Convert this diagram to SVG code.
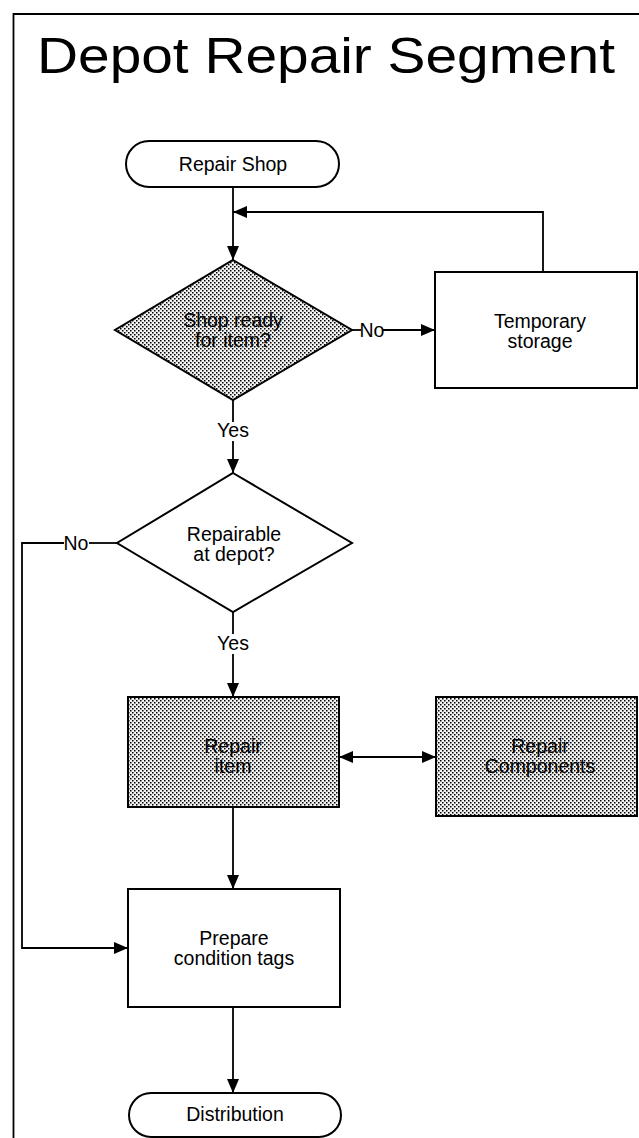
<svg xmlns="http://www.w3.org/2000/svg" width="639" height="1138" viewBox="0 0 639 1138">
  <style>
    .shape { stroke: #000; stroke-width: 2; fill: #fff; }
    .shaded { stroke: #000; stroke-width: 2; fill: url(#halftone); }
    .wire { stroke: #000; stroke-width: 1.8; fill: none; }
    .lbl { font-family: "Liberation Sans", Arial, sans-serif; font-size: 19.5px; fill: #000; text-anchor: middle; }
    .title { font-family: "Liberation Sans", Arial, sans-serif; font-size: 50px; fill: #000; }
  </style>
  <defs>
    <!-- dotted halftone used for shaded steps -->
    <pattern id="halftone" width="4" height="4" patternUnits="userSpaceOnUse">
      <rect width="4" height="4" fill="#f2f2f2"/>
      <rect x="0" y="0" width="1.5" height="1.5" fill="#000"/>
      <rect x="2" y="2" width="1.5" height="1.5" fill="#000"/>
    </pattern>
    <marker id="arrow" viewBox="0 0 14 12" refX="14" refY="6" markerWidth="14" markerHeight="12" markerUnits="userSpaceOnUse" orient="auto-start-reverse">
      <path d="M0,0 L14,6 L0,12 Z" fill="#000"/>
    </marker>
  </defs>

  <rect width="639" height="1138" fill="#fff"/>

  <!-- page frame -->
  <g id="frame">
    <path d="M13.5,1138 V14 H639" class="wire" stroke-width="2"/>
  </g>

  <text id="title" class="title" x="37" y="73" textLength="578" lengthAdjust="spacingAndGlyphs">Depot Repair Segment</text>

  <!-- connectors -->
  <g id="connectors">
    <!-- Repair Shop to first decision -->
    <path d="M233,187 V260" class="wire" marker-end="url(#arrow)"/>
    <!-- storage loop back -->
    <path d="M543,272 V212 H233" class="wire" marker-end="url(#arrow)"/>
    <!-- No: to temporary storage -->
    <path d="M352,330 H361" class="wire"/>
    <path d="M383,330 H435" class="wire" marker-end="url(#arrow)"/>
    <text class="lbl" x="372" y="337">No</text>
    <!-- Yes: to second decision -->
    <path d="M233,400 V422" class="wire"/>
    <path d="M233,441 V473" class="wire" marker-end="url(#arrow)"/>
    <text class="lbl" x="233" y="437">Yes</text>
    <!-- No: bypass to condition tags -->
    <path d="M117,543 H89" class="wire"/>
    <path d="M64,543 H22 V948 H128" class="wire" marker-end="url(#arrow)"/>
    <text class="lbl" x="76" y="550">No</text>
    <!-- Yes: to repair item -->
    <path d="M233,612 V634" class="wire"/>
    <path d="M233,654 V697" class="wire" marker-end="url(#arrow)"/>
    <text class="lbl" x="233" y="650">Yes</text>
    <!-- repair item <-> components -->
    <path d="M339,757 H436" class="wire" marker-start="url(#arrow)" marker-end="url(#arrow)"/>
    <!-- repair item to condition tags -->
    <path d="M233,807 V889" class="wire" marker-end="url(#arrow)"/>
    <!-- condition tags to distribution -->
    <path d="M233,1007 V1093" class="wire" marker-end="url(#arrow)"/>
  </g>

  <g id="repair-shop">
    <rect class="shape" x="126" y="141" width="213" height="46" rx="23" ry="23"/>
    <text class="lbl" x="233" y="171">Repair Shop</text>
  </g>

  <g id="shop-ready">
    <path class="shaded" d="M233,260 L352,330 L233,400 L115,330 Z"/>
    <text class="lbl" x="233" y="327">Shop ready</text>
    <text class="lbl" x="233" y="347">for item?</text>
  </g>

  <g id="temporary-storage">
    <rect class="shape" x="435" y="272" width="202" height="116"/>
    <text class="lbl" x="540" y="328">Temporary</text>
    <text class="lbl" x="540" y="348">storage</text>
  </g>

  <g id="repairable">
    <path class="shape" d="M233,473 L352,543 L233,612 L117,543 Z"/>
    <text class="lbl" x="234" y="541">Repairable</text>
    <text class="lbl" x="234" y="561">at depot?</text>
  </g>

  <g id="repair-item">
    <rect class="shaded" x="128" y="697" width="211" height="110"/>
    <text class="lbl" x="233" y="753">Repair</text>
    <text class="lbl" x="233" y="773">item</text>
  </g>

  <g id="repair-components">
    <rect class="shaded" x="436" y="697" width="201" height="119"/>
    <text class="lbl" x="540" y="753">Repair</text>
    <text class="lbl" x="540" y="773">Components</text>
  </g>

  <g id="condition-tags">
    <rect class="shape" x="128" y="889" width="212" height="118"/>
    <text class="lbl" x="234" y="945">Prepare</text>
    <text class="lbl" x="234" y="965">condition tags</text>
  </g>

  <g id="distribution">
    <rect class="shape" x="129" y="1093" width="212" height="44" rx="22" ry="22"/>
    <text class="lbl" x="235" y="1121">Distribution</text>
  </g>
</svg>
